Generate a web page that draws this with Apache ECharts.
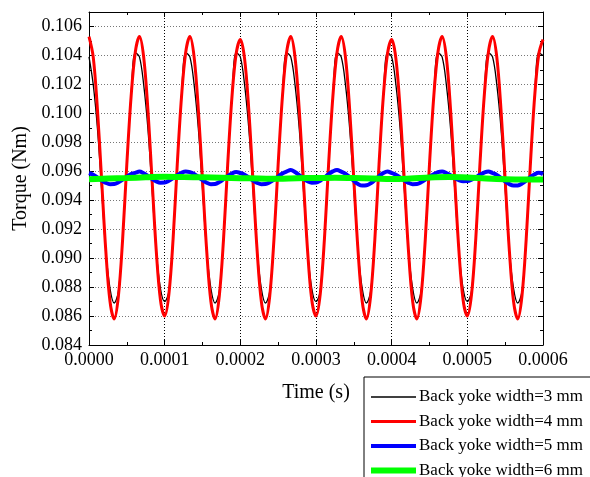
<!DOCTYPE html>
<html>
<head>
<meta charset="utf-8">
<script src="https://cdn.jsdelivr.net/npm/echarts@6/dist/echarts.min.js"></script>
<style>
html,body{margin:0;padding:0;background:#fff;}
#chart{width:590px;height:477px;}
</style>
</head>
<body>
<div id="chart"></div>
<script>
// Time samples in microseconds (axis labels shown in seconds)
const timesUs = [
  0, 5.56, 11.11, 16.67, 22.22, 27.78, 33.33, 38.89, 44.44, 50, 55.56, 61.11,
  66.67, 72.22, 77.78, 83.33, 88.89, 94.44, 100, 105.56, 111.11, 116.67, 122.22, 127.78,
  133.33, 138.89, 144.44, 150, 155.56, 161.11, 166.67, 172.22, 177.78, 183.33, 188.89, 194.44,
  200, 205.56, 211.11, 216.67, 222.22, 227.78, 233.33, 238.89, 244.44, 250, 255.56, 261.11,
  266.67, 272.22, 277.78, 283.33, 288.89, 294.44, 300, 305.56, 311.11, 316.67, 322.22, 327.78,
  333.33, 338.89, 344.44, 350, 355.56, 361.11, 366.67, 372.22, 377.78, 383.33, 388.89, 394.44,
  400, 405.56, 411.11, 416.67, 422.22, 427.78, 433.33, 438.89, 444.44, 450, 455.56, 461.11,
  466.67, 472.22, 477.78, 483.33, 488.89, 494.44, 500, 505.56, 511.11, 516.67, 522.22, 527.78,
  533.33, 538.89, 544.44, 550, 555.56, 561.11, 566.67, 572.22, 577.78, 583.33, 588.89, 594.44,
  600
];

// Back yoke width = 3 mm (black)
const torque3mm = [
  0.1039, 0.1020, 0.0990, 0.0948, 0.0905, 0.0879, 0.0869, 0.0877, 0.0913, 0.0964, 0.1012, 0.1042,
  0.1039, 0.1020, 0.0990, 0.0948, 0.0905, 0.0879, 0.0870, 0.0877, 0.0913, 0.0964, 0.1012, 0.1042,
  0.1039, 0.1020, 0.0990, 0.0948, 0.0905, 0.0879, 0.0869, 0.0877, 0.0913, 0.0964, 0.1012, 0.1042,
  0.1039, 0.1020, 0.0990, 0.0948, 0.0905, 0.0879, 0.0869, 0.0877, 0.0913, 0.0964, 0.1012, 0.1042,
  0.1039, 0.1020, 0.0990, 0.0948, 0.0905, 0.0879, 0.0870, 0.0877, 0.0913, 0.0964, 0.1012, 0.1042,
  0.1039, 0.1020, 0.0990, 0.0948, 0.0905, 0.0879, 0.0869, 0.0877, 0.0913, 0.0964, 0.1012, 0.1042,
  0.1039, 0.1020, 0.0990, 0.0948, 0.0905, 0.0879, 0.0869, 0.0877, 0.0913, 0.0964, 0.1012, 0.1042,
  0.1039, 0.1020, 0.0990, 0.0948, 0.0905, 0.0879, 0.0870, 0.0877, 0.0913, 0.0964, 0.1012, 0.1042,
  0.1039, 0.1020, 0.0990, 0.0948, 0.0905, 0.0879, 0.0869, 0.0877, 0.0913, 0.0964, 0.1012, 0.1042,
  0.1040
];

// Back yoke width = 4 mm (red)
const torque4mm = [
  0.1053, 0.1039, 0.1003, 0.0954, 0.0905, 0.0870, 0.0858, 0.0874, 0.0913, 0.0965, 0.1011, 0.1042,
  0.1053, 0.1039, 0.1003, 0.0954, 0.0905, 0.0871, 0.0860, 0.0875, 0.0913, 0.0965, 0.1011, 0.1042,
  0.1053, 0.1039, 0.1003, 0.0954, 0.0905, 0.0870, 0.0858, 0.0874, 0.0913, 0.0965, 0.1011, 0.1041,
  0.1051, 0.1038, 0.1003, 0.0954, 0.0905, 0.0870, 0.0858, 0.0874, 0.0913, 0.0965, 0.1011, 0.1042,
  0.1053, 0.1039, 0.1003, 0.0954, 0.0905, 0.0871, 0.0860, 0.0875, 0.0913, 0.0965, 0.1011, 0.1042,
  0.1053, 0.1039, 0.1003, 0.0954, 0.0905, 0.0870, 0.0858, 0.0874, 0.0913, 0.0965, 0.1011, 0.1041,
  0.1051, 0.1038, 0.1003, 0.0954, 0.0905, 0.0870, 0.0858, 0.0874, 0.0913, 0.0965, 0.1011, 0.1042,
  0.1053, 0.1039, 0.1003, 0.0954, 0.0905, 0.0871, 0.0860, 0.0875, 0.0913, 0.0965, 0.1011, 0.1042,
  0.1053, 0.1039, 0.1003, 0.0954, 0.0905, 0.0870, 0.0858, 0.0874, 0.0913, 0.0965, 0.1011, 0.1041,
  0.1051
];

// Back yoke width = 5 mm (blue)
const torque5mm = [
  0.09588, 0.09576, 0.09558, 0.09537, 0.09520, 0.09511, 0.09512, 0.09524, 0.09542, 0.09563, 0.09580, 0.09589,
  0.09598, 0.09586, 0.09568, 0.09547, 0.09530, 0.09521, 0.09522, 0.09534, 0.09552, 0.09573, 0.09590, 0.09599,
  0.09594, 0.09581, 0.09561, 0.09539, 0.09521, 0.09511, 0.09512, 0.09525, 0.09545, 0.09567, 0.09585, 0.09595,
  0.09588, 0.09576, 0.09558, 0.09537, 0.09520, 0.09511, 0.09512, 0.09524, 0.09542, 0.09563, 0.09585, 0.09598,
  0.09608, 0.09595, 0.09574, 0.09550, 0.09531, 0.09521, 0.09522, 0.09535, 0.09556, 0.09580, 0.09599, 0.09609,
  0.09597, 0.09583, 0.09560, 0.09534, 0.09512, 0.09501, 0.09503, 0.09517, 0.09540, 0.09566, 0.09588, 0.09599,
  0.09588, 0.09576, 0.09558, 0.09537, 0.09520, 0.09511, 0.09512, 0.09524, 0.09542, 0.09563, 0.09580, 0.09594,
  0.09598, 0.09588, 0.09572, 0.09554, 0.09539, 0.09531, 0.09532, 0.09542, 0.09558, 0.09576, 0.09591, 0.09599,
  0.09588, 0.09575, 0.09554, 0.09530, 0.09511, 0.09501, 0.09502, 0.09515, 0.09536, 0.09560, 0.09579, 0.09589,
  0.09580
];

// Back yoke width = 6 mm (green), coarser samples
const timesGreenUs = [0, 25, 50, 75, 100, 125, 150, 175, 200, 225, 250, 275, 300,
                      325, 350, 375, 400, 425, 450, 475, 500, 525, 550, 575, 600];
const torque6mm = [0.09545, 0.09550, 0.09553, 0.09558, 0.09562, 0.09560, 0.09558, 0.09555, 0.09552,
                   0.09550, 0.09548, 0.09552, 0.09553, 0.09555, 0.09553, 0.09550, 0.09546, 0.09550,
                   0.09557, 0.09560, 0.09557, 0.09550, 0.09545, 0.09543, 0.09543];

const seriesNames = ['Back yoke width=3 mm', 'Back yoke width=4 mm', 'Back yoke width=5 mm', 'Back yoke width=6 mm'];
const seriesColors = ['#000000', '#ff0000', '#0000ff', '#00ff00'];
const seriesWidths = [1.3, 3, 4, 6];

const FONT = "'Liberation Serif', 'Times New Roman', serif";

function pairs(xs, ys) { return xs.map((x, i) => [x, ys[i]]); }

const chart = echarts.init(document.getElementById('chart'), null, {renderer: 'canvas'});

const tickCommon = {show: true, inside: true, length: 5, lineStyle: {color: '#000', width: 1}};
const minorCommon = {show: true, splitNumber: 2, length: 3, lineStyle: {color: '#000', width: 1}};

const seriesData = [
  pairs(timesUs, torque3mm),
  pairs(timesUs, torque4mm),
  pairs(timesUs, torque5mm),
  pairs(timesGreenUs, torque6mm)
];

chart.setOption({
  animation: false,
  backgroundColor: '#fff',
  grid: {left: 89, right: 47, top: 12, bottom: 132, containLabel: false},
  xAxis: [
    {
      type: 'value', min: 0, max: 600, interval: 100,
      name: 'Time (s)', nameLocation: 'middle', nameGap: 38,
      nameTextStyle: {fontFamily: FONT, fontSize: 20, color: '#000'},
      axisLine: {show: true, onZero: false, lineStyle: {color: '#000', width: 1}},
      axisTick: tickCommon,
      minorTick: minorCommon,
      axisLabel: {fontFamily: FONT, fontSize: 18, color: '#000', margin: 6,
                  formatter: v => (v / 1e6).toFixed(4)},
      splitLine: {show: true, lineStyle: {color: '#000', width: 1, type: [1, 2]}}
    },
    {
      type: 'value', min: 0, max: 600, interval: 100, position: 'top',
      axisLine: {show: true, onZero: false, lineStyle: {color: '#000', width: 1}},
      axisTick: tickCommon, minorTick: minorCommon,
      axisLabel: {show: false}, splitLine: {show: false}
    }
  ],
  yAxis: [
    {
      type: 'value', min: 0.084, max: 0.107, interval: 0.002,
      name: 'Torque (Nm)', nameLocation: 'middle', nameGap: 56,
      nameTextStyle: {fontFamily: FONT, fontSize: 20, color: '#000'},
      axisLine: {show: true, onZero: false, lineStyle: {color: '#000', width: 1}},
      axisTick: tickCommon, minorTick: minorCommon,
      axisLabel: {fontFamily: FONT, fontSize: 18, color: '#000', margin: 7,
                  showMaxLabel: false, formatter: v => v.toFixed(3)},
      splitLine: {show: true, lineStyle: {color: '#777', width: 1, type: [1, 2]}}
    },
    {
      type: 'value', min: 0.084, max: 0.107, interval: 0.002, position: 'right',
      axisLine: {show: true, onZero: false, lineStyle: {color: '#000', width: 1}},
      axisTick: tickCommon, minorTick: minorCommon,
      axisLabel: {show: false}, splitLine: {show: false}
    }
  ],
  legend: {
    type: 'plain',
    orient: 'vertical', left: 364, top: 377, height: 140, width: 260,
    padding: [11.5, 14, 8, 4],
    itemGap: 7.5, itemWidth: 45, itemHeight: 14,
    itemStyle: {opacity: 0},
    backgroundColor: '#fff', borderColor: '#000', borderWidth: 1,
    textStyle: {fontFamily: FONT, fontSize: 17, color: '#000', padding: [0, 0, 0, -2]},
    data: seriesNames.map((n, i) => ({name: n, lineStyle: {width: seriesWidths[i], color: seriesColors[i]}}))
  },
  series: seriesNames.map((n, i) => ({
    name: n, type: 'line', data: seriesData[i], smooth: i === 3 ? 0.4 : 0.35,
    showSymbol: false, symbol: 'none', color: seriesColors[i],
    lineStyle: {color: seriesColors[i], width: seriesWidths[i]}, z: 2 + i
  }))
});
</script>
</body>
</html>
